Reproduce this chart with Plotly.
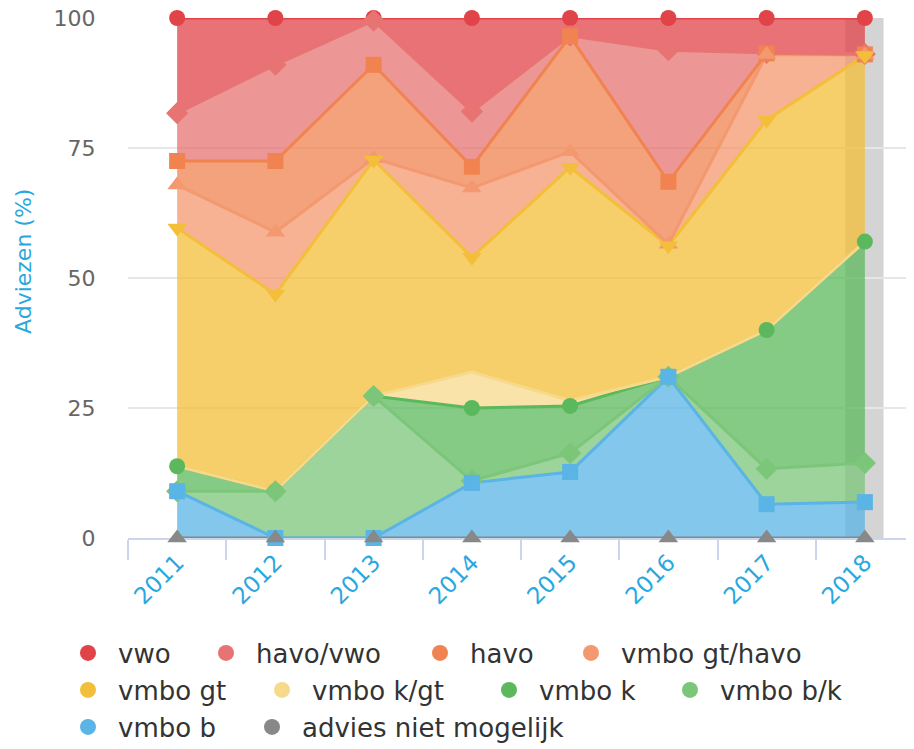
import numpy as np
import plotly.graph_objects as go

years = ["2011", "2012", "2013", "2014", "2015", "2016", "2017", "2018"]

# Percentages per advice category (stack order: bottom -> top)
advies_niet_mogelijk = [0, 0, 0, 0, 0, 0, 0, 0]
vmbo_b = [9.0, 0.0, 0.0, 10.6, 12.7, 31.0, 6.5, 6.9]
vmbo_bk = [0.0, 9.0, 27.3, 0.4, 3.6, 0.0, 6.8, 7.5]
vmbo_k = [4.8, 0.0, 0.0, 14.0, 9.1, 0.0, 26.7, 42.6]
vmbo_kgt = [0.0, 0.0, 0.0, 6.9, 1.0, 0.0, 0.0, 0.0]
vmbo_gt = [45.8, 37.9, 45.4, 22.1, 44.9, 25.2, 40.4, 35.8]
vmbo_gthavo = [8.3, 11.9, 0.3, 13.3, 3.0, 0.3, 12.6, 0.1]
havo = [4.6, 13.7, 18.0, 4.1, 22.2, 12.0, 0.2, 0.1]
havo_vwo = [9.2, 18.5, 8.5, 10.6, 0.1, 25.3, 0.1, 0.1]
vwo = [18.3, 9.0, 0.5, 18.0, 3.4, 6.2, 6.7, 6.9]

# legend order (top of stack first)
names = ["vwo", "havo/vwo", "havo", "vmbo gt/havo", "vmbo gt", "vmbo k/gt",
         "vmbo k", "vmbo b/k", "vmbo b", "advies niet mogelijk"]
values = [vwo, havo_vwo, havo, vmbo_gthavo, vmbo_gt, vmbo_kgt,
          vmbo_k, vmbo_bk, vmbo_b, advies_niet_mogelijk]
colors = ["#e04348", "#e77373", "#f0834f", "#f3986f", "#f3bf3a", "#f7d98b",
          "#5cb85c", "#7cc67a", "#5ab4e5", "#888888"]
symbols = ["circle", "diamond", "square", "triangle-up", "triangle-down", None,
           "circle", "diamond", "square", "triangle-up"]
msizes = [16, 17, 16, 17, 17, 0, 16, 17, 16, 17]

# legend item positions (symbol centre px, row centre px)
legend_pos = [(88, 653), (226, 653), (440, 653), (591, 653),
              (88, 690), (282, 690), (509, 690), (690, 690),
              (88, 727), (272, 727)]


def rgba(hexc, a):
    h = hexc.lstrip("#")
    r, g, b = int(h[0:2], 16), int(h[2:4], 16), int(h[4:6], 16)
    return f"rgba({r},{g},{b},{a})"


fig = go.Figure()

W, H = 914, 749
OFF = 8  # page body offset
ML, MR, MT, MB = 128 - OFF, OFF, 18 - OFF, H - 538 + OFF
PW, PH = W - ML - MR, H - MT - MB

# highlight band behind 2018
fig.add_shape(type="rect", xref="x", yref="paper", x0=6.8, x1=7.19, y0=0, y1=1,
              fillcolor="#d4d4d4", line=dict(width=0), layer="below")

# stacked areas, bottom first
for i in reversed(range(len(names))):
    fig.add_trace(go.Scatter(
        x=years, y=values[i], stackgroup="one", mode="lines",
        line=dict(color=colors[i], width=3),
        fillcolor=rgba(colors[i], 0.75),
        showlegend=False, hoverinfo="skip", cliponaxis=False,
    ))

# markers at cumulative positions; drawn top series first so lower ones lie above
stack = np.array(values[::-1], dtype=float)
cum = np.cumsum(stack, axis=0)[::-1]
for i in range(len(names)):
    if symbols[i] is None:
        continue
    fig.add_trace(go.Scatter(
        x=years, y=cum[i].tolist(), mode="markers",
        marker=dict(symbol=symbols[i], size=msizes[i], color=colors[i],
                    line=dict(width=0)),
        showlegend=False, hoverinfo="skip", cliponaxis=False,
    ))

# legend entries, each in its own legend box
for i, nm in enumerate(names):
    lname = "legend" if i == 0 else f"legend{i + 1}"
    fig.add_trace(go.Scatter(
        x=[years[0]], y=[None], mode="markers", name=nm,
        marker=dict(symbol="circle", size=20, color=colors[i]),
        legend=lname, showlegend=True, hoverinfo="skip",
    ))
    sx, sy = legend_pos[i]
    fig.update_layout({lname: dict(
        xref="container", yref="container",
        x=(sx - 30 - OFF) / W, y=1 - (sy - OFF) / H, xanchor="left", yanchor="middle",
        bgcolor="rgba(0,0,0,0)", borderwidth=0, itemwidth=50,
        font=dict(size=26, color="#333333", family="DejaVu Sans"),
    )})

# y-axis title
fig.add_annotation(
    text="Adviezen (%)", textangle=-90, showarrow=False,
    xref="paper", yref="paper",
    x=(23 - OFF - ML) / PW, y=1 - (262 - OFF - MT) / PH,
    xanchor="center", yanchor="middle",
    font=dict(size=22, color="#29a8e0", family="DejaVu Sans"),
)

fig.update_layout(
    width=W, height=H,
    margin=dict(l=ML, r=MR, t=MT, b=MB, autoexpand=False),
    plot_bgcolor="white", paper_bgcolor="white",
    font=dict(family="DejaVu Sans"),
)
fig.update_xaxes(
    type="category", categoryorder="array", categoryarray=years,
    range=[-0.5, 7.5], tickson="boundaries", layer="below traces",
    ticks="outside", ticklen=20, tickwidth=1.5, tickcolor="#ccd6eb",
    showline=True, linecolor="#ccd6eb", linewidth=2, showgrid=False,
    tickangle=-45, tickfont=dict(size=23, color="#29a8e0"),
)
fig.update_yaxes(
    range=[0, 100], tickvals=[0, 25, 50, 75, 100], ticklabeloverflow="allow",
    showgrid=True, gridcolor="#e6e6e6", gridwidth=1.5, zeroline=False,
    showline=False, ticks="outside", ticklen=27, tickcolor="rgba(0,0,0,0)",
    tickfont=dict(size=22, color="#666666"),
)

fig.write_html("out.html")
